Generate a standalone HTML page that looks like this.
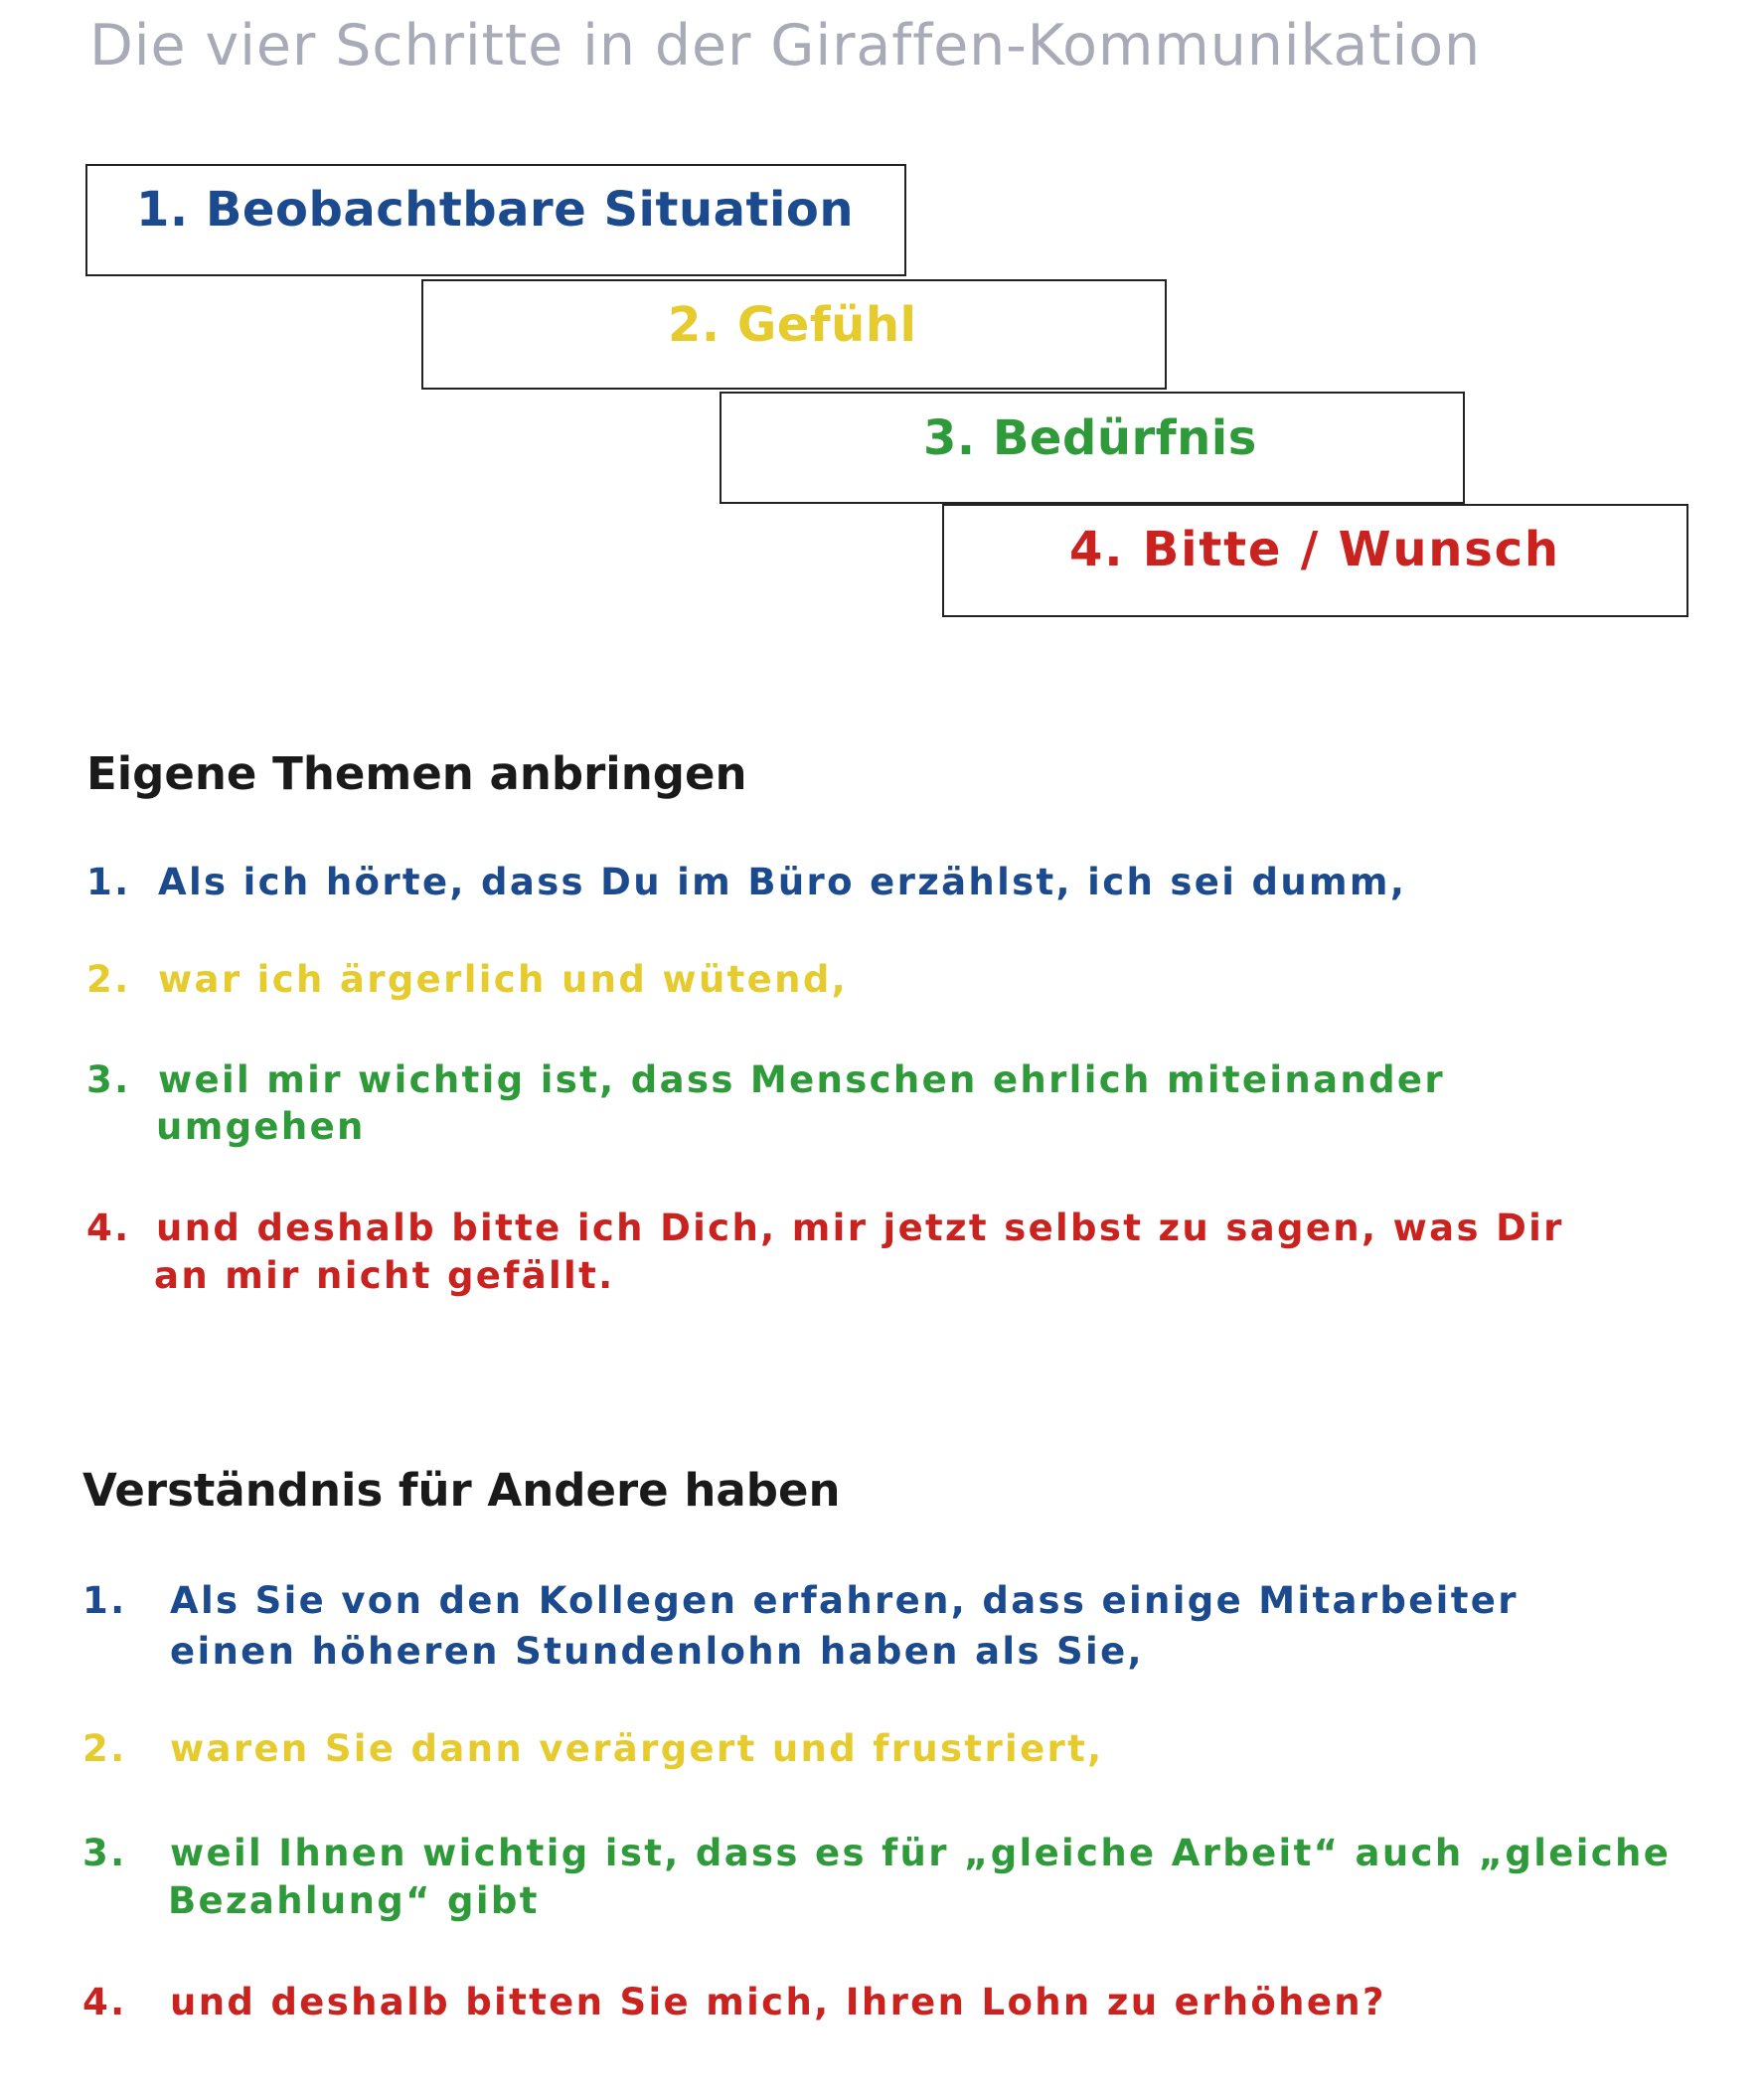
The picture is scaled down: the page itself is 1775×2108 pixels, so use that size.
<!DOCTYPE html>
<html><head><meta charset="utf-8"><style>
body{margin:0;width:1775px;height:2108px;background:#fff;position:relative;overflow:hidden;font-family:"DejaVu Sans","Liberation Sans",sans-serif}
.a{position:absolute;white-space:nowrap;line-height:1}
.box{position:absolute;border:2.5px solid #222;box-sizing:border-box;background:#fff}
.bt{font-weight:bold;font-size:48px;letter-spacing:0.5px}
.h{font-weight:bold;font-size:45px;color:#1a1a1a}
.t{font-weight:bold;font-size:37px;letter-spacing:2.35px}
.b{color:#1b4a8e}.y{color:#e6cb2e}.g{color:#2f9a3a}.r{color:#c9221f}
</style></head><body>
<div class="a" style="left:90px;top:18px;font-size:57px;color:#a8aab8;letter-spacing:0.9px">Die vier Schritte in der Giraffen-Kommunikation</div>

<div class="box" style="left:86px;top:165px;width:826px;height:113px"></div>
<div class="box" style="left:424px;top:281px;width:750px;height:111px"></div>
<div class="box" style="left:724px;top:394px;width:750px;height:113px"></div>
<div class="box" style="left:948px;top:507px;width:751px;height:114px"></div>
<div class="a bt b" style="left:137px;top:187px">1. Beobachtbare Situation</div>
<div class="a bt y" style="left:672px;top:303px">2. Gefühl</div>
<div class="a bt g" style="left:929px;top:417px">3. Bedürfnis</div>
<div class="a bt r" style="left:1076px;top:529px;letter-spacing:1.8px">4. Bitte / Wunsch</div>

<div class="a h" style="left:87px;top:756px">Eigene Themen anbringen</div>
<div class="a t b" style="left:87px;top:869px">1.</div><div class="a t b" style="left:159px;top:869px">Als ich hörte, dass Du im Büro erzählst, ich sei dumm,</div>
<div class="a t y" style="left:87px;top:967px">2.</div><div class="a t y" style="left:159px;top:967px">war ich ärgerlich und wütend,</div>
<div class="a t g" style="left:87px;top:1068px">3.</div><div class="a t g" style="left:159px;top:1068px">weil mir wichtig ist, dass Menschen ehrlich miteinander</div>
<div class="a t g" style="left:157px;top:1115px">umgehen</div>
<div class="a t r" style="left:87px;top:1217px">4.</div><div class="a t r" style="left:157px;top:1217px">und deshalb bitte ich Dich, mir jetzt selbst zu sagen, was Dir</div>
<div class="a t r" style="left:155px;top:1265px">an mir nicht gefällt.</div>

<div class="a h" style="left:83px;top:1477px">Verständnis für Andere haben</div>
<div class="a t b" style="left:83px;top:1592px">1.</div><div class="a t b" style="left:171px;top:1592px">Als Sie von den Kollegen erfahren, dass einige Mitarbeiter</div>
<div class="a t b" style="left:171px;top:1643px">einen höheren Stundenlohn haben als Sie,</div>
<div class="a t y" style="left:83px;top:1741px">2.</div><div class="a t y" style="left:171px;top:1741px">waren Sie dann verärgert und frustriert,</div>
<div class="a t g" style="left:83px;top:1846px">3.</div><div class="a t g" style="left:171px;top:1846px">weil Ihnen wichtig ist, dass es für „gleiche Arbeit“ auch „gleiche</div>
<div class="a t g" style="left:169px;top:1894px">Bezahlung“ gibt</div>
<div class="a t r" style="left:83px;top:1996px">4.</div><div class="a t r" style="left:171px;top:1996px">und deshalb bitten Sie mich, Ihren Lohn zu erhöhen?</div>
</body></html>
